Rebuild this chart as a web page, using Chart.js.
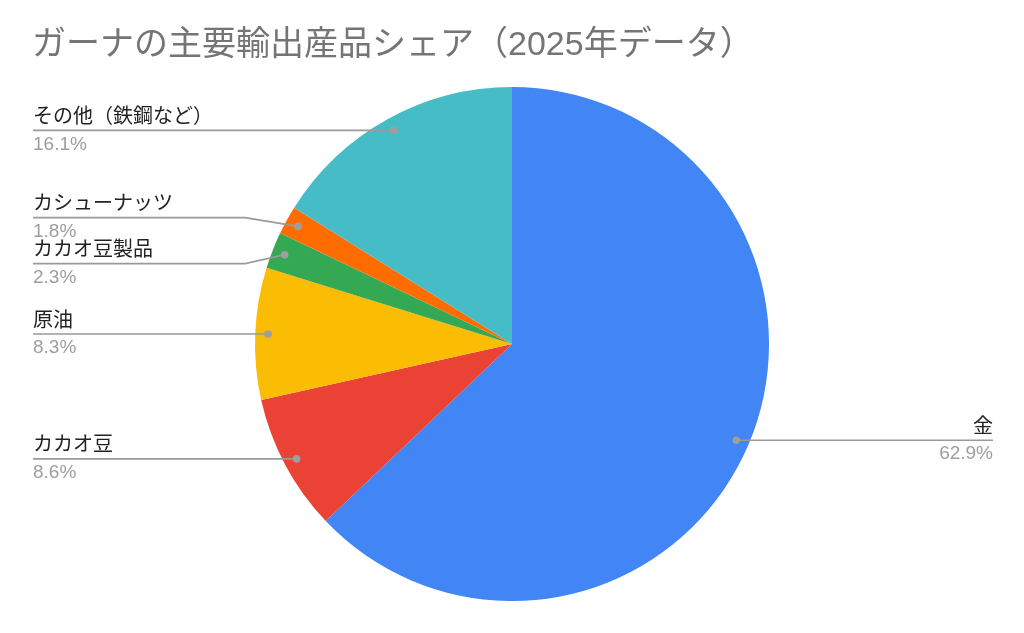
<!DOCTYPE html>
<html>
<head>
<meta charset="utf-8">
<script src="https://cdn.jsdelivr.net/npm/chart.js@4"></script>
<style>
  html, body { margin: 0; padding: 0; background: #fff; }
  canvas { display: block; }
</style>
</head>
<body>
<canvas id="chart" width="1024" height="633"></canvas>
<script>
const chartTitle = "ガーナの主要輸出産品シェア（2025年データ）";
const products = ["金", "カカオ豆", "原油", "カカオ豆製品", "カシューナッツ", "その他（鉄鋼など）"];
const shares = [62.9, 8.6, 8.3, 2.3, 1.8, 16.1];
const sliceColors = ["#4285F4", "#EA4335", "#FBBC04", "#34A853", "#FF6D01", "#46BDC6"];

const FONT = "'Liberation Sans', 'Noto Sans CJK JP', sans-serif";

// title + callout labels, drawn after the pie
const calloutPlugin = {
  id: "callouts",
  afterDraw(chart) {
    const ctx = chart.ctx;
    const meta = chart.getDatasetMeta(0);
    const total = shares.reduce((a, b) => a + b, 0);

    ctx.save();
    ctx.fillStyle = "#757575";
    ctx.font = "34px " + FONT;
    ctx.textAlign = "left";
    ctx.textBaseline = "middle";
    ctx.fillText(chartTitle, 32, 46);

    const left = [];
    const right = [];
    meta.data.forEach((arc, i) => {
      const mid = (arc.startAngle + arc.endAngle) / 2;
      const r = arc.outerRadius * 0.95;
      const dot = { x: arc.x + Math.cos(mid) * r, y: arc.y + Math.sin(mid) * r };
      const item = { i, dot, y: dot.y };
      (dot.x < arc.x ? left : right).push(item);
    });

    // push close labels apart
    const spread = (list) => {
      list.sort((a, b) => a.dot.y - b.dot.y);
      const gap = 46;
      for (let k = 1; k < list.length; k++) {
        const a = list[k - 1], b = list[k];
        if (b.y - a.y < gap) {
          const c = (a.y + b.y) / 2;
          a.y = c - gap / 2;
          b.y = c + gap / 2;
        }
      }
    };
    spread(left);
    spread(right);

    const drawItem = (item, side) => {
      const { i, dot, y } = item;
      const edgeX = side === "left" ? 33 : 993;
      ctx.strokeStyle = "#9a9a9a";
      ctx.lineWidth = 1.6;
      ctx.beginPath();
      ctx.moveTo(edgeX, y);
      if (Math.abs(y - dot.y) > 0.5) {
        const elbowX = side === "left" ? 245 : 779;
        ctx.lineTo(elbowX, y);
      }
      ctx.lineTo(dot.x, dot.y);
      ctx.stroke();

      ctx.fillStyle = "#9e9e9e";
      ctx.beginPath();
      ctx.arc(dot.x, dot.y, 3.8, 0, Math.PI * 2);
      ctx.fill();

      ctx.textAlign = side === "left" ? "left" : "right";
      ctx.textBaseline = "middle";
      ctx.fillStyle = "#222222";
      ctx.font = "20px " + FONT;
      ctx.fillText(products[i], edgeX, y - 13);
      ctx.fillStyle = "#9e9e9e";
      ctx.font = "19px " + FONT;
      ctx.fillText((shares[i] / total * 100).toFixed(1) + "%", edgeX, y + 14);
    };
    left.forEach(it => drawItem(it, "left"));
    right.forEach(it => drawItem(it, "right"));
    ctx.restore();
  }
};

new Chart(document.getElementById("chart"), {
  type: "pie",
  data: {
    labels: products,
    datasets: [{
      data: shares,
      backgroundColor: sliceColors,
      borderWidth: 0
    }]
  },
  options: {
    responsive: false,
    animation: false,
    devicePixelRatio: 1,
    layout: {
      padding: { top: 87, bottom: 32, left: 0, right: 0 }
    },
    plugins: {
      legend: { display: false },
      tooltip: { enabled: false },
      title: { display: false }
    }
  },
  plugins: [calloutPlugin]
});
</script>
</body>
</html>
